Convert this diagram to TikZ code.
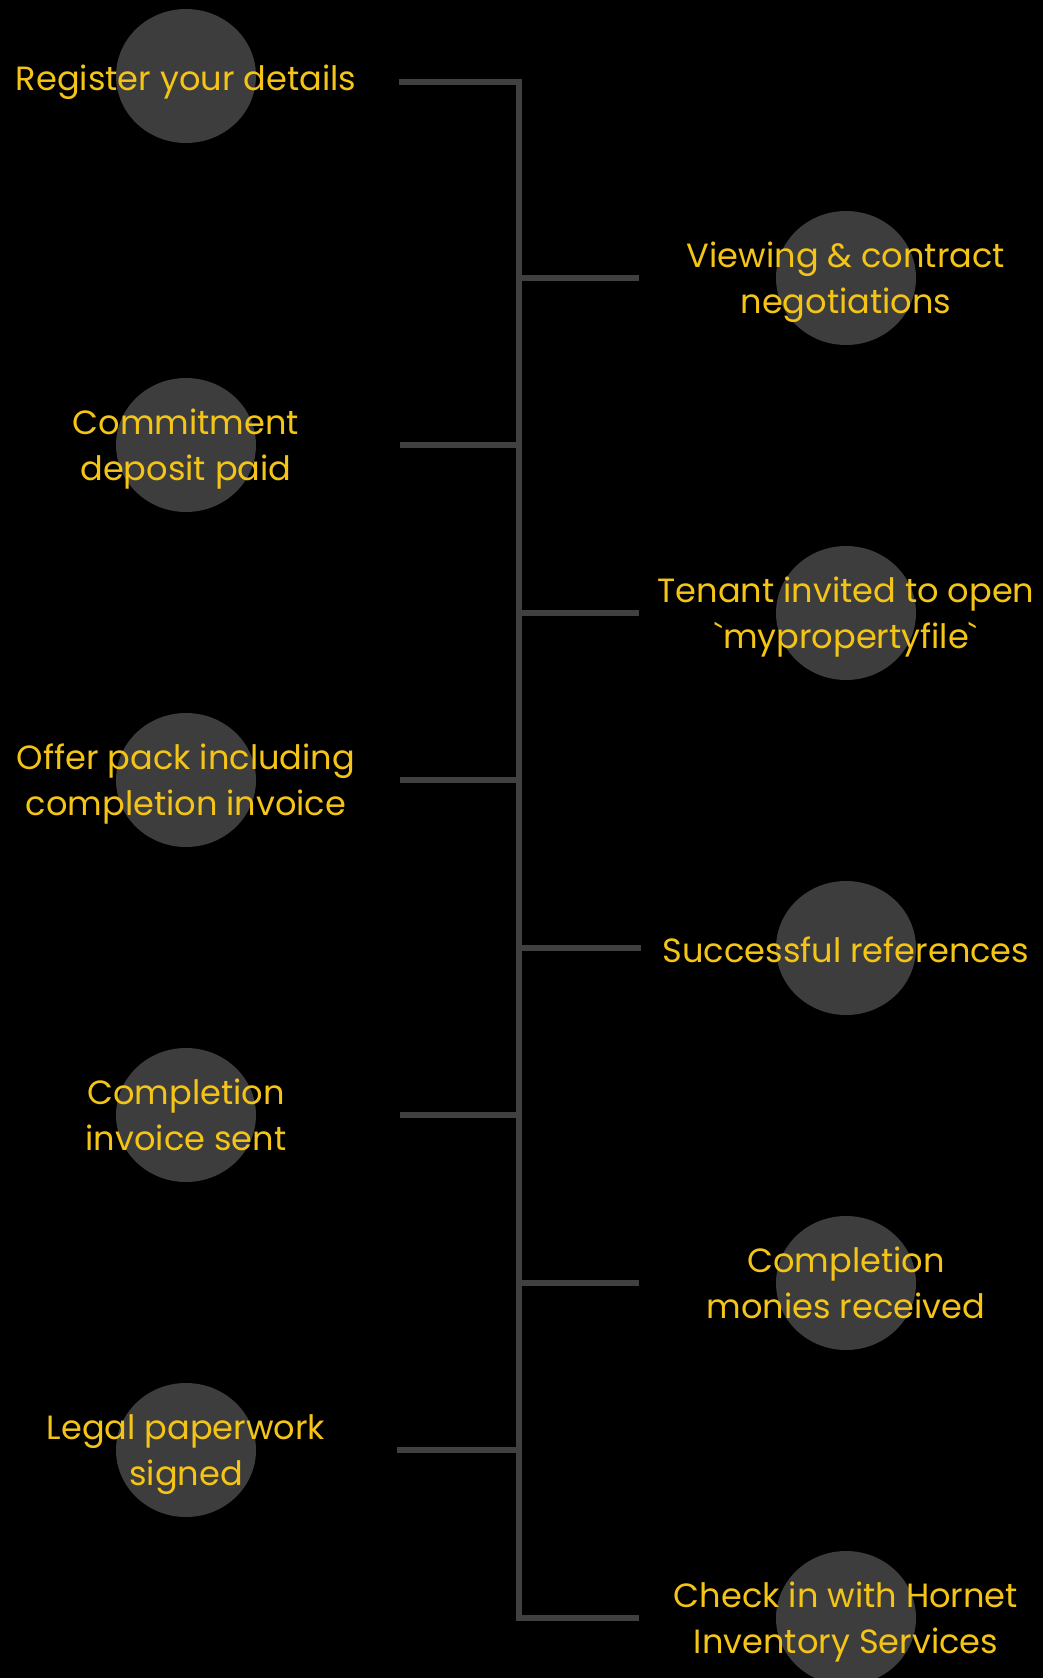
\documentclass[tikz,border=0pt]{standalone}
\usepackage{fontspec}
\setmainfont{Poppins}
\usetikzlibrary{shapes.geometric}
\definecolor{bg}{HTML}{000000}
\definecolor{disc}{HTML}{3D3D3D}
\definecolor{wire}{HTML}{404040}
\definecolor{gold}{HTML}{F4C417}
\tikzset{
  disc/.style={ellipse, fill=disc, draw=none, minimum width=140pt, minimum height=134pt, inner sep=0pt},
  lbl/.style={anchor=base, text=gold, inner sep=0pt, font=\fontsize{33.6}{40}\selectfont},
  wire/.style={draw=wire, line width=6pt},
}
\begin{document}
\begin{tikzpicture}[x=1pt,y=-1pt]
\useasboundingbox (0,0) rectangle (1043,1678);
\fill[bg] (0,0) rectangle (1043,1678);
\clip (0,0) rectangle (1043,1678);
% discs
\node[disc] (c1) at (186,76) {};
\node[disc] (c2) at (186,445) {};
\node[disc] (c3) at (186,780) {};
\node[disc] (c4) at (186,1115) {};
\node[disc] (c5) at (186,1450) {};
\node[disc] (d1) at (846,278) {};
\node[disc] (d2) at (846,613) {};
\node[disc] (d3) at (846,948) {};
\node[disc] (d4) at (846,1283) {};
\node[disc] (d5) at (846,1618) {};
% spine junctions
\coordinate (jt) at (519,82);
\coordinate (j2) at (519,445);
\coordinate (j3) at (519,780);
\coordinate (j4) at (519,1115);
\coordinate (j5) at (519,1450);
\coordinate (k1) at (519,278);
\coordinate (k2) at (519,613);
\coordinate (k3) at (519,948);
\coordinate (k4) at (519,1283);
\coordinate (jb) at (519,1618);
% branch ends
\coordinate (e1) at (399,82);
\coordinate (e2) at (400,445);
\coordinate (e3) at (400,780);
\coordinate (e4) at (400,1115);
\coordinate (e5) at (397,1450);
\coordinate (f1) at (639,278);
\coordinate (f2) at (639,613);
\coordinate (f3) at (641,948);
\coordinate (f4) at (639,1283);
\coordinate (f5) at (639,1618);
% connectors
\draw[wire] (e1) -- (jt) -- (jb) -- (f5);
\draw[wire] (e2) -- (j2);
\draw[wire] (e3) -- (j3);
\draw[wire] (e4) -- (j4);
\draw[wire] (e5) -- (j5);
\draw[wire] (k1) -- (f1);
\draw[wire] (k2) -- (f2);
\draw[wire] (k3) -- (f3);
\draw[wire] (k4) -- (f4);
% labels left
\node[lbl] (t1) at ([yshift=-14pt]c1.center) {Register your details};
\node[lbl] (t2a) at ([yshift=11pt]c2.center) {Commitment};
\node[lbl] (t2b) at ([yshift=-35pt]c2.center) {deposit paid};
\node[lbl] (t3a) at ([yshift=11pt]c3.center) {Offer pack including};
\node[lbl] (t3b) at ([yshift=-35pt]c3.center) {completion invoice};
\node[lbl] (t4a) at ([yshift=11pt]c4.center) {Completion};
\node[lbl] (t4b) at ([yshift=-35pt]c4.center) {invoice sent};
\node[lbl] (t5a) at ([yshift=11pt]c5.center) {Legal paperwork};
\node[lbl] (t5b) at ([yshift=-35pt]c5.center) {signed};
% labels right
\node[lbl] (u1a) at ([yshift=11pt]d1.center) {Viewing \& contract};
\node[lbl] (u1b) at ([yshift=-35pt]d1.center) {negotiations};
\node[lbl] (u2a) at ([yshift=11pt]d2.center) {Tenant invited to open};
\node[lbl] (u2b) at ([yshift=-35pt]d2.center) {\textasciigrave mypropertyfile\textasciigrave};
\node[lbl] (u3) at ([yshift=-14pt]d3.center) {Successful references};
\node[lbl] (u4a) at ([yshift=11pt]d4.center) {Completion};
\node[lbl] (u4b) at ([yshift=-35pt]d4.center) {monies received};
\node[lbl] (u5a) at ([yshift=11pt]d5.center) {Check in with Hornet};
\node[lbl] (u5b) at ([yshift=-35pt]d5.center) {Inventory Services};
\end{tikzpicture}
\end{document}
